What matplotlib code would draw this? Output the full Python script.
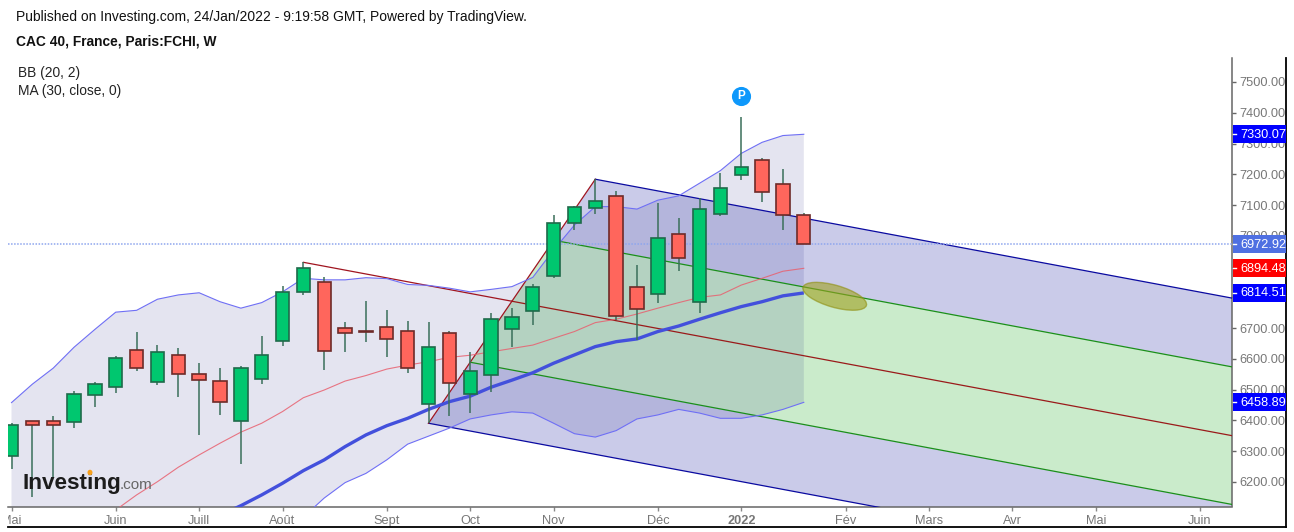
import matplotlib
matplotlib.use("Agg")
import matplotlib.pyplot as plt
import numpy as np
from matplotlib.patches import Ellipse, Polygon, Rectangle
from matplotlib.transforms import Affine2D, Bbox

plt.rcParams['font.family'] = ['Liberation Sans', 'DejaVu Sans']

# ---- weekly candles (bar index = list position) ----
opens = [6285, 6397, 6397, 6395, 6484, 6509, 6628, 6526, 6613, 6550, 6527, 6399, 6534, 6658, 6817, 6850, 6701, 6692, 6705, 6690,
         6452, 6683, 6485, 6549, 6697, 6755, 6870, 7041, 7090, 7130, 6833, 6811, 7006, 6786, 7072, 7197, 7246, 7170, 7069]
closes = [6385, 6384, 6384, 6485, 6517, 6602, 6570, 6623, 6551, 6530, 6459, 6570, 6613, 6818, 6896, 6627, 6683, 6688, 6666, 6570,
          6640, 6521, 6560, 6729, 6735, 6833, 7041, 7095, 7112, 6739, 6763, 6992, 6927, 7087, 7155, 7223, 7143, 7069, 6972.92]
highs = [6391, 6398, 6414, 6496, 6525, 6609, 6687, 6645, 6634, 6586, 6571, 6577, 6675, 6837, 6914, 6865, 6719, 6787, 6759, 6723,
         6719, 6691, 6622, 6748, 6765, 6843, 7068, 7097, 7184, 7146, 6904, 7106, 7057, 7122, 7205, 7386, 7252, 7217, 7073]
lows = [6242, 6152, 6213, 6376, 6445, 6490, 6561, 6515, 6477, 6353, 6419, 6257, 6518, 6643, 6809, 6565, 6621, 6654, 6607, 6554,
        6391, 6416, 6423, 6493, 6640, 6710, 6862, 7019, 7071, 6726, 6661, 6781, 6887, 6750, 7064, 7181, 7111, 7019, 6972.92]

# ---- indicators ----
bb_upper = [6458, 6518, 6570, 6638, 6696, 6752, 6758, 6794, 6808, 6815, 6786, 6765, 6783, 6818, 6862, 6857, 6857, 6864, 6861, 6842,
            6839, 6830, 6818, 6826, 6835, 6865, 6954, 7035, 7095, 7095, 7087, 7116, 7130, 7171, 7212, 7268, 7304, 7326, 7330.07]
bb_lower = [5200, 5250, 5300, 5350, 5400, 5465, 5540, 5610, 5687, 5760, 5865, 5960, 5998, 6038, 6086, 6148, 6198, 6228, 6272, 6323,
            6349, 6375, 6405, 6418, 6428, 6424, 6391, 6357, 6346, 6367, 6405, 6418, 6436, 6424, 6407, 6407, 6418, 6436, 6458.89]
bb_mid = [5850, 5900, 5960, 6010, 6060, 6109, 6158, 6201, 6248, 6288, 6326, 6362, 6391, 6429, 6474, 6499, 6528, 6546, 6567, 6580,
          6591, 6605, 6612, 6623, 6634, 6645, 6667, 6689, 6718, 6729, 6746, 6765, 6783, 6800, 6808, 6840, 6862, 6885, 6894.48]
ma30_idx = list(range(9, 39))
ma30 = [6060, 6092, 6123, 6158, 6196, 6237, 6272, 6315, 6353, 6383, 6407, 6436, 6461, 6479, 6508, 6531, 6555, 6586, 6613, 6640,
        6656, 6665, 6689, 6707, 6729, 6750, 6770, 6786, 6805, 6814.51]

# ---- pitchfork pivots (bar index, price) ----
pivot_a = (14, 6914)
pivot_b = (28, 7184)
pivot_c = (20, 6391)

last_price = 6972.92
marker_idx, marker_price = 35, 7456

y_ticks = [6200, 6300, 6400, 6500, 6600, 6700, 6800, 6900, 7000, 7100, 7200, 7300, 7400, 7500]
month_idx = [0, 5, 9, 13, 18, 22, 26, 31, 35, 40, 44, 48, 52, 57]
month_labels = ['Mai', 'Juin', 'Juill', 'Août', 'Sept', 'Oct', 'Nov', 'Déc', '2022', 'Fév', 'Mars', 'Avr', 'Mai', 'Juin']
price_tags = [(7330.07, '#0000ff'), (6972.92, '#4f70e2'), (6894.48, '#ff0000'), (6814.51, '#0000ff'), (6458.89, '#0000ff')]

W, H = 1294, 532
fig = plt.figure(figsize=(W / 100, H / 100), dpi=100, facecolor='white')
L, R, T, B = 8, 1232, 58, 506.5
ax = fig.add_axes([L / W, 1 - B / H, (R - L) / W, (B - T) / H])
ax.set_xlim((L - 11.5) / 20.85, (R - 11.5) / 20.85)
ax.set_ylim(7766.5 - 3.25 * B, 7766.5 - 3.25 * T)
px = Affine2D().scale(1, -1).translate(0, H)

idx = np.arange(len(opens))
xmax = ax.get_xlim()[1]

# pitchfork
ma, mb = np.array(pivot_b, float), np.array(pivot_c, float)
pa = np.array(pivot_a, float)
mid = (ma + mb) / 2
slope = (mid[1] - pa[1]) / (mid[0] - pa[0])
def ray(p):
    p = np.asarray(p, float)
    return p, np.array([xmax, p[1] + slope * (xmax - p[0])])
hi_in = (ma + mid) / 2
lo_in = (mb + mid) / 2
lav, grn = '#cacbe9', '#caebcb'
for p, q, col in [(ma, hi_in, lav), (hi_in, lo_in, grn), (lo_in, mb, lav)]:
    _, pe = ray(p)
    _, qe = ray(q)
    ax.add_patch(Polygon([p, pe, qe, q], closed=True, fc=col, ec='none', zorder=1))

# bollinger fill
ax.fill_between(idx, bb_lower, bb_upper, color='#000073', alpha=0.105, lw=0, zorder=2)

for p, col in [(ma, '#0a0aa0'), (mb, '#0a0aa0'), (hi_in, '#1a8f1a'), (lo_in, '#1a8f1a'), (mid, '#9a1a1a')]:
    s, e = ray(p)
    ax.plot([s[0], e[0]], [s[1], e[1]], color=col, lw=0.9, zorder=3)
ax.plot([pivot_b[0], pivot_c[0]], [pivot_b[1], pivot_c[1]], color='#a01520', lw=0.9, zorder=3)
ax.plot([pa[0], mid[0]], [pa[1], mid[1]], color='#a01520', lw=0.9, zorder=3)

# indicators
ax.plot(idx, bb_upper, color='#6f6ff5', lw=0.8, zorder=4)
ax.plot(idx, bb_lower, color='#6f6ff5', lw=0.8, zorder=4)
ax.plot(idx, bb_mid, color='#e8606f', lw=0.8, alpha=0.85, zorder=4)
ax.plot(ma30_idx, ma30, color='#4350dc', lw=2.4, zorder=4, solid_capstyle='butt')

# last price line
ax.axhline(last_price, color='#8ea6ee', lw=1.1, ls=(0, (1, 1)), zorder=4.5)

# candles
for i, (o, c, h, l) in enumerate(zip(opens, closes, highs, lows)):
    up = c >= o
    ax.plot([i, i], [l, h], color='#3a6f5a', lw=1.1, zorder=5, solid_capstyle='butt')
    ax.add_patch(Rectangle((i - 0.32, min(o, c)), 0.64, abs(c - o),
                           fc='#00c76f' if up else '#ff665c',
                           ec='#1f6a4a' if up else '#6e2a28', lw=1.2, zorder=6))

# channel ellipse
ax.add_patch(Ellipse((834.7, 296.3), 66, 22, angle=16, transform=px, fc='#a0a020', alpha=0.6, ec='#8f8f10', lw=1, zorder=4.2))

# pivot marker
ax.scatter([marker_idx], [marker_price], s=190, color='#0e98fb', zorder=7, lw=0)
ax.text(marker_idx, marker_price, 'P', color='white', fontsize=8.5, fontweight='bold', ha='center', va='center', zorder=8)

# axes frame
for s in ax.spines.values():
    s.set_visible(False)
for side in ('right', 'bottom'):
    ax.spines[side].set_visible(True)
    ax.spines[side].set_color('#666666')
    ax.spines[side].set_linewidth(1.1)
ax.yaxis.tick_right()
ax.set_yticks(y_ticks)
ax.set_yticklabels([f'{v:.2f}' for v in y_ticks], fontsize=9.2, color='#777777')
ax.tick_params(axis='y', length=3, width=1, color='#666666', pad=2)
ax.set_xticks(month_idx)
ax.set_xticklabels(month_labels, fontsize=9.2, color='#777777')
ax.tick_params(axis='x', length=3, width=1, color='#888888', pad=3)
for t, lab in zip(ax.get_xticklabels(), month_labels):
    if lab == '2022':
        t.set_fontweight('bold')
ax.get_xticklabels()[0].set_clip_box(Bbox([[L, 0], [W, H]]))
ax.get_xticklabels()[0].set_clip_on(True)

# outer frame lines
fig.add_artist(plt.Line2D([L, 1286], [526.5, 526.5], transform=px, color='black', lw=1.3))
fig.add_artist(plt.Line2D([1286, 1286], [58, 526.5], transform=px, color='black', lw=1.3))

# price tags on axis
for val, col in price_tags:
    y = 7766.5 / 3.25 - val / 3.25
    fig.add_artist(Rectangle((1232.5, y - 9), 53, 18, transform=px, fc=col, ec='none', zorder=5))
    fig.text(1240 / W, 1 - (y + 0.5) / H, f'{val:.2f}', color='white', fontsize=9.2, va='center', ha='left', zorder=6)
    fig.add_artist(plt.Line2D([1232.5, 1235.5], [y, y], transform=px, color='white', lw=1, zorder=6))

# header text
fig.text(16 / W, 1 - 17.5 / H, 'Published on Investing.com, 24/Jan/2022 - 9:19:58 GMT, Powered by TradingView.',
         fontsize=10.0, color='#111111', va='center')
fig.text(16 / W, 1 - 42 / H, 'CAC 40, France, Paris:FCHI, W', fontsize=9.95, fontweight='bold', color='#111111', va='center')
fig.text(18 / W, 1 - 73.5 / H, 'BB (20, 2)', fontsize=9.9, color='#222222', va='center')
fig.text(18 / W, 1 - 90.5 / H, 'MA (30, close, 0)', fontsize=9.9, color='#222222', va='center')

# watermark
fig.text(22 / W, 1 - 489 / H, 'Investing', fontsize=16.2, fontweight='bold', color='#1c1c1c', va='baseline', zorder=9)
fig.text(120 / W, 1 - 489 / H, '.com', fontsize=11, color='#666666', va='baseline', zorder=9)
fig.add_artist(Ellipse((90, 472.5), 5, 5.5, transform=px, fc='#f7a01c', ec='none', zorder=10))

fig.savefig('out.png', dpi=100, facecolor='white')
